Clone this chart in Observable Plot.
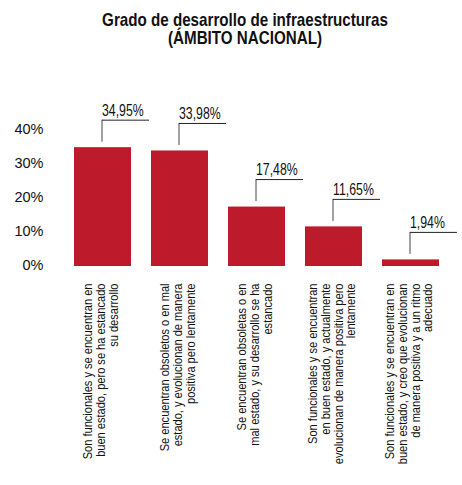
<!DOCTYPE html>
<html>
<head>
<meta charset="utf-8">
<script src="https://cdn.jsdelivr.net/npm/d3@7"></script>
<script src="https://cdn.jsdelivr.net/npm/@observablehq/plot@0.6"></script>
<style>
  html, body { margin: 0; padding: 0; background: #fff; }
  #wrap { position: relative; width: 462px; height: 485px; }
  #title {
    position: absolute; left: 0; top: 0; width: 462px; box-sizing: border-box;
    padding-left: 28px; padding-top: 11px; text-align: center;
    font-family: "Liberation Sans", Arial, sans-serif;
    font-weight: bold; font-size: 18.5px; line-height: 18px; color: #111;
    transform: scaleX(0.82); transform-origin: 245px 0;
  }
  #chart { position: absolute; left: 0; top: 0; }
</style>
</head>
<body>
<div id="wrap">
  <div id="chart"></div>
  <div id="title">Grado de desarrollo de infraestructuras<br>(ÁMBITO NACIONAL)</div>
</div>
<script>
const categories = [
  "Son funcionales y se encuentran en\nbuen estado, pero se ha estancado\nsu desarrollo",
  "Se encuentran obsoletos o en mal\nestado, y evolucionan de manera\npositiva pero lentamente",
  "Se encuentran obsoletas o en\nmal estado, y su desarrollo se ha\nestancado",
  "Son funcionales y se encuentran\nen buen estado, y actualmente\nevolucionan de manera positiva pero\nlentamente",
  "Son funcionales y se encuentran en\nbuen estado, y creo que evolucionan\nde manera positiva y a un ritmo\nadecuado"
];
const values = [34.95, 33.98, 17.48, 11.65, 1.94];
const yTicks = [0, 10, 20, 30, 40];

const data = categories.map((c, i) => ({cat: c, value: values[i]}));
const fmt = v => v.toFixed(2).replace(".", ",") + "%";

const W = 462, H = 485;
const marginTop = 130, marginBottom = 219;
const pxPerUnit = (H - marginTop - marginBottom) / 40;
const leader = 22 / pxPerUnit;   // leader length in data units
const sans = "'Liberation Sans', Arial, sans-serif";

const chart = Plot.plot({
  width: W,
  height: H,
  marginTop, marginBottom,
  marginLeft: 63, marginRight: 13,
  style: {fontFamily: sans, fontSize: "15px", background: "transparent", color: "#111"},
  x: {domain: categories, paddingInner: 0.26, paddingOuter: 0.13, axis: null},
  y: {domain: [0, 40], nice: false},
  marks: [
    Plot.axisY({ticks: yTicks, tickSize: 0, tickPadding: 20, tickFormat: d => d + "%", label: null,
      fontSize: 14.5, fill: "#111", dy: -1}),
    Plot.barY(data, {x: "cat", y: "value", fill: "#bd1a2b"}),
    Plot.ruleX(data, {x: "cat", y1: "value", y2: d => d.value + leader, dy: -5.5, dx: -1, stroke: "#444", strokeWidth: 1}),
    Plot.tickY(data, {x: "cat", y: d => d.value + leader, dy: -5.5, dx: 28, insetRight: 10, stroke: "#222", strokeWidth: 1}),
    Plot.text(data, {x: "cat", y: d => d.value + leader, text: d => fmt(d.value), dy: -10, dx: -1,
      textAnchor: "start", lineAnchor: "bottom", fontSize: 16, fill: "#111"}),
    Plot.text(data, {x: "cat", text: "cat", frameAnchor: "bottom", rotate: -90, textAnchor: "end",
      lineAnchor: "middle", dy: 17, dx: -2, fontSize: 13.5, lineHeight: 0.95, fill: "#111"})
  ]
});
// condense the narrow-style texts (value labels and category labels) along their reading direction
const groups = chart.querySelectorAll("g[aria-label='text']");
const scales = [0.77, 0.82];
groups.forEach((g, k) => {
  g.querySelectorAll("text").forEach(t => {
    const tr = t.getAttribute("transform") || "";
    t.setAttribute("transform", tr + ` scale(${scales[k] ?? 0.82},1)`);
  });
});
document.getElementById("chart").appendChild(chart);
</script>
</body>
</html>
